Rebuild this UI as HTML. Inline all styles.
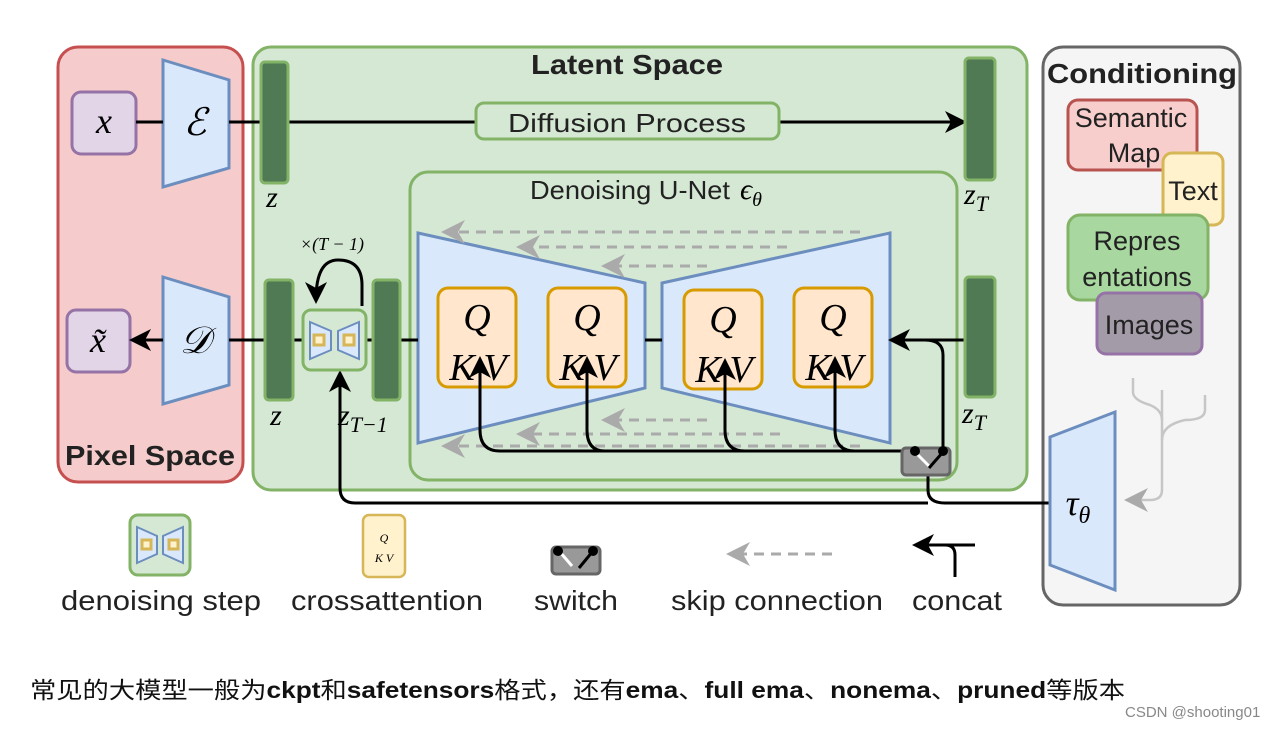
<!DOCTYPE html>
<html><head><meta charset="utf-8"><style>
body{margin:0;background:#fff;}
svg{display:block;}
.s{font-family:"Liberation Sans",sans-serif;}
.m{font-family:"Liberation Serif",serif;font-style:italic;}
</style></head><body>
<svg width="1280" height="730" viewBox="0 0 1280 730" xmlns="http://www.w3.org/2000/svg">
<defs>
<marker id="abig" markerWidth="22" markerHeight="22" refX="18" refY="11" orient="auto" markerUnits="userSpaceOnUse"><path d="M0,0 L22,11 L0,22 L6,11z" fill="#000"/></marker>
<marker id="ag" markerWidth="24" markerHeight="24" refX="20" refY="12" orient="auto" markerUnits="userSpaceOnUse"><path d="M0,0 L24,12 L0,24 L7,12z" fill="#aaa"/></marker>
</defs>
<rect x="58" y="47" width="185" height="435" rx="20" fill="#f5cccb" stroke="#c5504f" stroke-width="3"/>
<text x="150" y="465" class="s" font-size="28" font-weight="bold" text-anchor="middle" fill="#222" textLength="170" lengthAdjust="spacingAndGlyphs">Pixel Space</text>
<rect x="253" y="47" width="774" height="443" rx="18" fill="#d5e8d4" stroke="#82b366" stroke-width="3"/>
<text x="627" y="74" class="s" font-size="28" font-weight="bold" text-anchor="middle" fill="#222" textLength="192" lengthAdjust="spacingAndGlyphs">Latent Space</text>
<rect x="1043" y="47" width="197" height="558" rx="20" fill="#f5f5f5" stroke="#666" stroke-width="3"/>
<text x="1142" y="83" class="s" font-size="28" font-weight="bold" text-anchor="middle" fill="#222" textLength="190" lengthAdjust="spacingAndGlyphs">Conditioning</text>

<rect x="72" y="92" width="64" height="62" rx="9" fill="#e1d5e7" stroke="#9673a6" stroke-width="3"/>
<text x="104" y="133" class="m" font-size="36" text-anchor="middle">x</text>
<rect x="67" y="310" width="63" height="62" rx="9" fill="#e1d5e7" stroke="#9673a6" stroke-width="3"/>
<text x="98" y="352" class="m" font-size="36" text-anchor="middle">x̃</text>
<polygon points="163,60 229,80 229,168 163,187" fill="#dae8fc" stroke="#6c8ebf" stroke-width="3"/>
<text x="195" y="135" class="m" font-size="38" text-anchor="middle">ℰ</text>
<polygon points="163,277 229,297 229,385 163,404" fill="#dae8fc" stroke="#6c8ebf" stroke-width="3"/>
<text x="195" y="353" class="m" font-size="38" text-anchor="middle">𝒟</text>

<line x1="136" y1="122" x2="163" y2="122" stroke="#000" stroke-width="3"/>
<line x1="229" y1="122" x2="261" y2="122" stroke="#000" stroke-width="3"/>
<line x1="288" y1="122" x2="476" y2="122" stroke="#000" stroke-width="3"/>
<line x1="779" y1="122" x2="963" y2="122" stroke="#000" stroke-width="3" marker-end="url(#abig)"/>
<rect x="476" y="103" width="303" height="36" rx="8" fill="#d5e8d4" stroke="#82b366" stroke-width="3"/>
<text x="627" y="132" class="s" font-size="26" text-anchor="middle" fill="#222" textLength="238" lengthAdjust="spacingAndGlyphs">Diffusion Process</text>
<rect x="261" y="62" width="27" height="121" rx="4" fill="#4f7a53" stroke="#82b366" stroke-width="3"/>
<text x="272" y="207" class="m" font-size="30" text-anchor="middle">z</text>
<rect x="965" y="58" width="30" height="122" rx="4" fill="#4f7a53" stroke="#82b366" stroke-width="3"/>
<text x="964" y="204" class="m" font-size="30">z<tspan font-size="22" dy="7">T</tspan></text>

<rect x="410" y="172" width="547" height="308" rx="18" fill="#d5e8d4" stroke="#82b366" stroke-width="3"/>
<text x="530" y="199" class="s" font-size="26" fill="#222" textLength="200" lengthAdjust="spacingAndGlyphs">Denoising U-Net</text>
<text x="740" y="199" class="m" font-size="30">ϵ<tspan font-size="20" dy="7">θ</tspan></text>
<polygon points="418,233 645,283 645,388 418,443" fill="#dae8fc" stroke="#6c8ebf" stroke-width="3"/>
<polygon points="662,283 890,233 890,443 662,388" fill="#dae8fc" stroke="#6c8ebf" stroke-width="3"/>
<line x1="645" y1="340" x2="662" y2="340" stroke="#000" stroke-width="3"/>
<g stroke="#aaa" stroke-width="3" stroke-dasharray="10,7" fill="none">
<line x1="860" y1="232" x2="445" y2="232" marker-end="url(#ag)"/>
<line x1="787" y1="247" x2="520" y2="247" marker-end="url(#ag)"/>
<line x1="707" y1="266" x2="605" y2="266" marker-end="url(#ag)"/>
<line x1="707" y1="420" x2="605" y2="420" marker-end="url(#ag)"/>
<line x1="780" y1="434" x2="520" y2="434" marker-end="url(#ag)"/>
<line x1="860" y1="446" x2="445" y2="446" marker-end="url(#ag)"/>
</g>
<g fill="#ffe6cc" stroke="#d79b00" stroke-width="3">
<rect x="438" y="288" width="78" height="99" rx="10"/>
<rect x="548" y="288" width="78" height="99" rx="10"/>
<rect x="684" y="290" width="78" height="99" rx="10"/>
<rect x="794" y="288" width="78" height="99" rx="10"/>
</g>
<g class="m" font-size="38" text-anchor="middle">
<text x="477" y="330">Q</text><text x="462" y="380">K</text><text x="495" y="380">V</text>
<text x="587" y="330">Q</text><text x="572" y="380">K</text><text x="605" y="380">V</text>
<text x="723" y="332">Q</text><text x="708" y="382">K</text><text x="741" y="382">V</text>
<text x="833" y="330">Q</text><text x="818" y="380">K</text><text x="851" y="380">V</text>
</g>
<g stroke="#000" stroke-width="3" fill="none">
<path d="M915,451 L500,451 Q480,451 480,430 L480,360" marker-end="url(#abig)"/>
<path d="M605,451 Q587,451 587,430 L587,360" marker-end="url(#abig)"/>
<path d="M745,451 Q725,451 725,430 L725,362" marker-end="url(#abig)"/>
<path d="M855,451 Q835,451 835,430 L835,360" marker-end="url(#abig)"/>
<path d="M943,451 L943,355 Q943,340 925,340 L892,340" marker-end="url(#abig)"/>
<line x1="925" y1="340" x2="965" y2="340"/>
<path d="M928,463 L928,490 Q928,503 945,503 L1050,503"/>
<path d="M928,503 L355,503 Q340,503 340,488 L340,374" marker-end="url(#abig)"/>
</g>
<rect x="902" y="448" width="48" height="27" rx="4" fill="#999" stroke="#666" stroke-width="3"/>
<line x1="915" y1="452" x2="930" y2="467" stroke="#fff" stroke-width="3"/>
<line x1="943" y1="452" x2="929" y2="468" stroke="#000" stroke-width="3"/>
<circle cx="915" cy="451" r="5"/><circle cx="943" cy="451" r="5"/>
<rect x="965" y="277" width="30" height="120" rx="4" fill="#4f7a53" stroke="#82b366" stroke-width="3"/>
<text x="962" y="423" class="m" font-size="30">z<tspan font-size="22" dy="7">T</tspan></text>

<line x1="163" y1="340" x2="133" y2="340" stroke="#000" stroke-width="3" marker-end="url(#abig)"/>
<line x1="229" y1="340" x2="373" y2="340" stroke="#000" stroke-width="3"/>
<line x1="400" y1="340" x2="418" y2="340" stroke="#000" stroke-width="3"/>
<rect x="265" y="280" width="28" height="120" rx="4" fill="#4f7a53" stroke="#82b366" stroke-width="3"/>
<text x="276" y="425" class="m" font-size="30" text-anchor="middle">z</text>
<rect x="373" y="280" width="27" height="120" rx="4" fill="#4f7a53" stroke="#82b366" stroke-width="3"/>
<text x="338" y="425" class="m" font-size="30">z<tspan font-size="22" dy="7">T−1</tspan></text>
<rect x="303" y="310" width="63" height="60" rx="8" fill="#d5e8d4" stroke="#82b366" stroke-width="3"/>
<polygon points="310,322 331,331 331,350 310,359" fill="#dae8fc" stroke="#6c8ebf" stroke-width="2"/>
<polygon points="359,322 338,331 338,350 359,359" fill="#dae8fc" stroke="#6c8ebf" stroke-width="2"/>
<rect x="314" y="335" width="10" height="10" fill="#fff2cc" stroke="#d6b656" stroke-width="3"/>
<rect x="344" y="335" width="10" height="10" fill="#fff2cc" stroke="#d6b656" stroke-width="3"/>
<path d="M362,306 L362,285 Q362,260 338,260 Q316,260 316,300" stroke="#000" stroke-width="3" fill="none" marker-end="url(#abig)"/>
<text x="332" y="250" class="m" font-size="18" text-anchor="middle" font-style="normal">×(<tspan font-style="italic">T</tspan> − 1)</text>

<rect x="1068" y="100" width="129" height="70" rx="10" fill="#f8cecc" stroke="#b85450" stroke-width="3"/>
<text x="1131" y="127" class="s" font-size="27" text-anchor="middle" fill="#222">Semantic</text>
<text x="1134" y="162" class="s" font-size="27" text-anchor="middle" fill="#222">Map</text>
<rect x="1163" y="153" width="60" height="72" rx="9" fill="#fff2cc" stroke="#d6b656" stroke-width="3"/>
<text x="1193" y="200" class="s" font-size="27" text-anchor="middle" fill="#222">Text</text>
<rect x="1068" y="215" width="140" height="85" rx="12" fill="#a8d8a0" stroke="#82b366" stroke-width="3"/>
<text x="1137" y="250" class="s" font-size="27" text-anchor="middle" fill="#222">Repres</text>
<text x="1137" y="286" class="s" font-size="27" text-anchor="middle" fill="#222">entations</text>
<rect x="1097" y="293" width="105" height="61" rx="9" fill="#a39ba7" stroke="#9673a6" stroke-width="3"/>
<text x="1149" y="334" class="s" font-size="27" text-anchor="middle" fill="#222">Images</text>
<g stroke="#c6c6c6" stroke-width="2.5" fill="none">
<path d="M1133,378 L1133,392 Q1133,400 1150,405 Q1162,410 1162,420"/>
<path d="M1162,390 L1162,490 Q1162,500 1150,500 L1128,500" marker-end="url(#ag)"/>
<path d="M1205,395 L1205,410 Q1205,420 1185,420 Q1162,425 1162,440"/>
</g>
<polygon points="1050,437 1115,412 1115,590 1050,565" fill="#dae8fc" stroke="#6c8ebf" stroke-width="3"/>
<text x="1078" y="515" class="m" font-size="36" text-anchor="middle">τ<tspan font-size="24" dy="8">θ</tspan></text>

<rect x="130" y="515" width="60" height="60" rx="8" fill="#d5e8d4" stroke="#82b366" stroke-width="3"/>
<polygon points="137,527 157,536 157,554 137,563" fill="#dae8fc" stroke="#6c8ebf" stroke-width="2"/>
<polygon points="183,527 163,536 163,554 183,563" fill="#dae8fc" stroke="#6c8ebf" stroke-width="2"/>
<rect x="142" y="540" width="9" height="9" fill="#fff2cc" stroke="#d6b656" stroke-width="3"/>
<rect x="169" y="540" width="9" height="9" fill="#fff2cc" stroke="#d6b656" stroke-width="3"/>
<rect x="363" y="515" width="42" height="62" rx="6" fill="#fff2cc" stroke="#d6b656" stroke-width="2.5"/>
<text x="384" y="542" class="m" font-size="12" text-anchor="middle">Q</text>
<text x="384" y="562" class="m" font-size="12" text-anchor="middle">K V</text>
<rect x="552" y="547" width="48" height="27" rx="4" fill="#999" stroke="#666" stroke-width="3"/>
<line x1="560" y1="552" x2="572" y2="566" stroke="#fff" stroke-width="3"/>
<line x1="593" y1="551" x2="579" y2="568" stroke="#000" stroke-width="3"/>
<circle cx="558" cy="551" r="5"/><circle cx="593" cy="551" r="5"/>
<line x1="832" y1="554" x2="730" y2="554" stroke="#aaa" stroke-width="3" stroke-dasharray="10,7" marker-end="url(#ag)"/>
<path d="M955,577 L955,555 Q955,545 945,545 L975,545" stroke="#000" stroke-width="3" fill="none"/>
<line x1="950" y1="545" x2="916" y2="545" stroke="#000" stroke-width="3" marker-end="url(#abig)"/>
<g class="s" font-size="28" fill="#222" text-anchor="middle">
<text x="161" y="610" textLength="200" lengthAdjust="spacingAndGlyphs">denoising step</text>
<text x="387" y="610" textLength="192" lengthAdjust="spacingAndGlyphs">crossattention</text>
<text x="576" y="610" textLength="84" lengthAdjust="spacingAndGlyphs">switch</text>
<text x="777" y="610" textLength="212" lengthAdjust="spacingAndGlyphs">skip connection</text>
<text x="957" y="610" textLength="90" lengthAdjust="spacingAndGlyphs">concat</text>
</g>
<text x="30" y="698" font-family="'Liberation Sans','Noto Sans CJK SC',sans-serif" font-size="23" fill="#111" textLength="1095" lengthAdjust="spacingAndGlyphs">常见的大模型一般为<tspan font-weight="bold">ckpt</tspan>和<tspan font-weight="bold">safetensors</tspan>格式，还有<tspan font-weight="bold">ema</tspan>、<tspan font-weight="bold">full ema</tspan>、<tspan font-weight="bold">nonema</tspan>、<tspan font-weight="bold">pruned</tspan>等版本</text>
<text x="1125" y="717" class="s" font-size="15" fill="#888">CSDN @shooting01</text>
</svg>
</body></html>
